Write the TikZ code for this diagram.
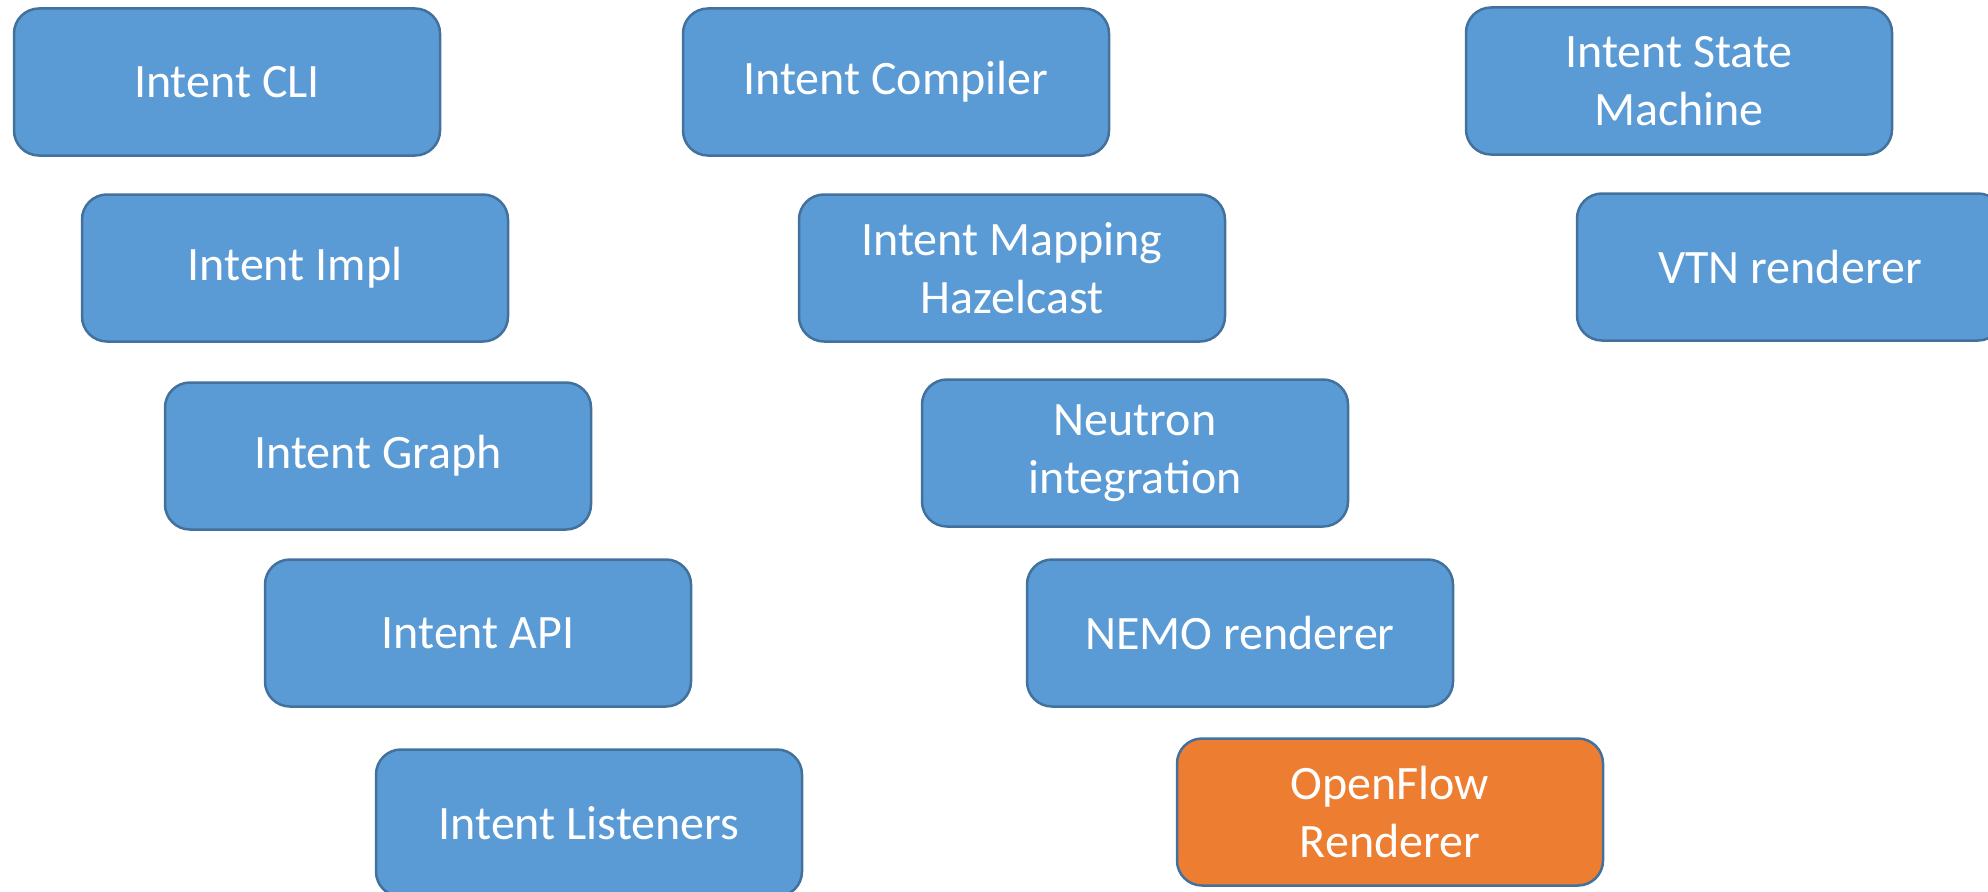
\documentclass[tikz,border=0pt]{standalone}
\usepackage{fontspec}
\setmainfont{Carlito}
\definecolor{boxblue}{HTML}{5B9BD5}
\definecolor{boxorange}{HTML}{ED7D31}
\definecolor{edgeblue}{HTML}{41719C}
\begin{document}
\begin{tikzpicture}[x=1pt,y=-1pt,
  box/.style={draw=edgeblue, line width=2.5pt, fill=boxblue, rounded corners=25pt,
    minimum width=426pt, minimum height=147pt, text=white, align=center,
    font=\fontsize{48}{58}\selectfont, inner sep=0pt},
  hot/.style={box, fill=boxorange}]
\useasboundingbox (0,0) rectangle (1988,891);
\clip (0,0) rectangle (1988,891);
\node[box] (cli) at (227,82) {Intent CLI};
\node[box] (compiler) at (896,82) {Intent Compiler};
\node[box] (state) at (1679,81) {Intent State\\Machine};
\node[box] (impl) at (295,268) {Intent Impl};
\node[box] (mapping) at (1012,268) {Intent Mapping\\Hazelcast};
\node[box] (vtn) at (1790,267) {VTN renderer};
\node[box] (graph) at (378,456) {Intent Graph};
\node[box] (neutron) at (1135,453) {Neutron\\integration};
\node[box] (api) at (478,633) {Intent API};
\node[box] (nemo) at (1240,633) {NEMO renderer};
\node[box] (listeners) at (589,823) {Intent Listeners};
\node[hot] (openflow) at (1390,812) {OpenFlow\\Renderer};
\end{tikzpicture}
\end{document}
